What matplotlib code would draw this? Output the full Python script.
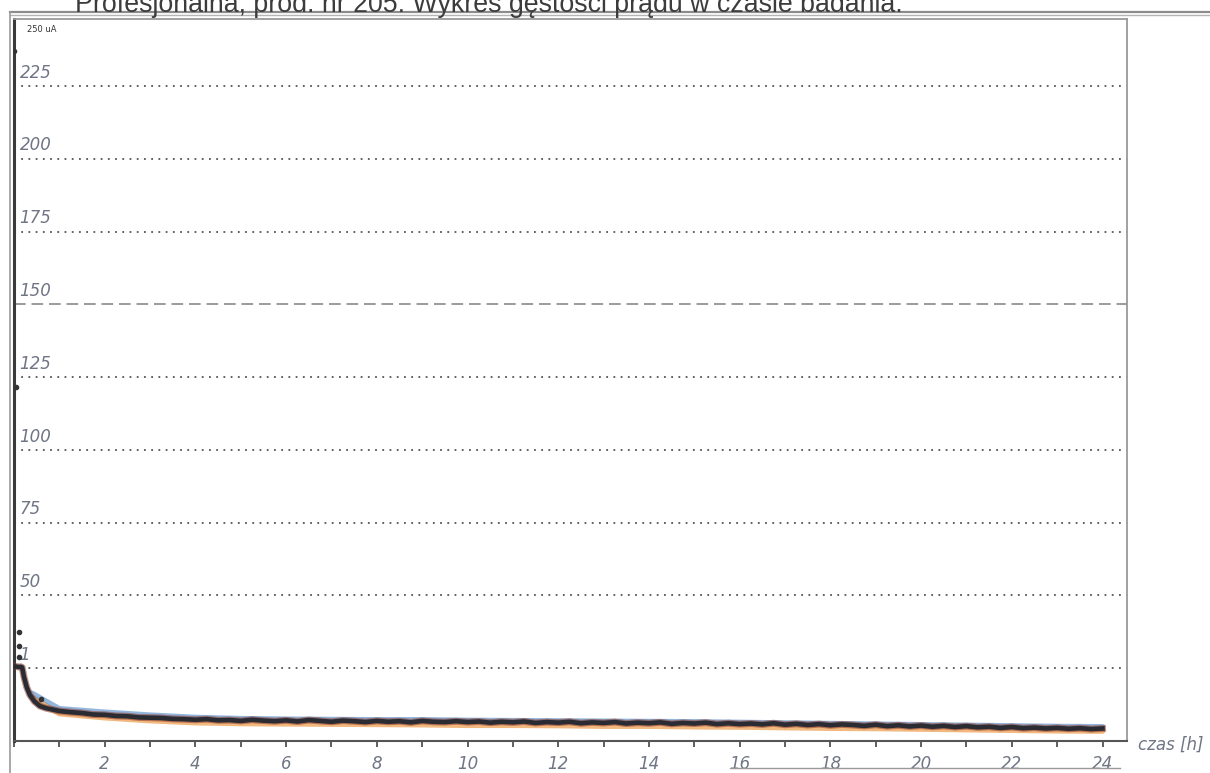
import matplotlib
matplotlib.use("Agg")
import matplotlib.pyplot as plt
from matplotlib.lines import Line2D

# current density trace, uA vs hours
hours = [0.0, 0.05, 0.1, 0.15, 0.18, 0.22, 0.28, 0.35, 0.45, 0.57, 0.7, 0.85,
         1.0, 1.25, 1.5, 1.75, 2.0, 2.25, 2.5, 2.75, 3.0, 3.25, 3.5, 3.75,
         4.0, 4.25, 4.5, 4.75, 5.0, 5.25, 5.5, 5.75, 6.0, 6.25, 6.5, 6.75,
         7.0, 7.25, 7.5, 7.75, 8.0, 8.25, 8.5, 8.75, 9.0, 9.25, 9.5, 9.75,
         10.0, 10.25, 10.5, 10.75, 11.0, 11.25, 11.5, 11.75, 12.0, 12.25, 12.5, 12.75,
         13.0, 13.25, 13.5, 13.75, 14.0, 14.25, 14.5, 14.75, 15.0, 15.25, 15.5, 15.75,
         16.0, 16.25, 16.5, 16.75, 17.0, 17.25, 17.5, 17.75, 18.0, 18.25, 18.5, 18.75,
         19.0, 19.25, 19.5, 19.75, 20.0, 20.25, 20.5, 20.75, 21.0, 21.25, 21.5, 21.75,
         22.0, 22.25, 22.5, 22.75, 23.0, 23.25, 23.5, 23.75, 24.0]
current = [25.5, 25.6, 25.4, 25.5, 25.3, 22.0, 18.5, 15.8, 13.6, 12.0, 11.3, 10.8,
           10.3, 9.9, 9.6, 9.1, 9.0, 8.6, 8.5, 8.1, 8.0, 7.9, 7.6, 7.5,
           7.3, 7.5, 7.1, 7.2, 6.9, 7.3, 7.0, 6.8, 7.1, 6.7, 7.2, 6.9,
           6.6, 7.0, 6.8, 6.5, 6.9, 6.6, 6.8, 6.4, 6.9, 6.6, 6.5, 6.8,
           6.5, 6.7, 6.3, 6.6, 6.4, 6.7, 6.2, 6.5, 6.3, 6.6, 6.1, 6.4,
           6.2, 6.5, 6.0, 6.3, 6.1, 6.4, 5.9, 6.2, 6.0, 6.3, 5.8, 6.1,
           5.8, 6.0, 5.7, 6.1, 5.6, 5.9, 5.5, 5.8, 5.4, 5.7, 5.5, 5.2,
           5.6, 5.1, 5.4, 5.0, 5.3, 4.9, 5.2, 4.8, 5.1, 4.7, 4.9, 4.5,
           4.8, 4.4, 4.6, 4.3, 4.5, 4.2, 4.4, 4.1, 4.3]

# companion channels drawn underneath
hours_coarse = [0.4, 1, 2, 3, 4, 5, 6, 7, 8, 9, 10, 11, 12, 13, 14, 15, 16,
                17, 18, 19, 20, 21, 22, 23, 24]
upper = [16.5, 11.2, 10.0, 9.0, 8.2, 7.8, 7.6, 7.5, 7.4, 7.4, 7.2, 7.1, 7.0,
         6.9, 6.8, 6.7, 6.5, 6.3, 6.1, 5.9, 5.7, 5.5, 5.3, 5.1, 5.0]
lower = [15.0, 9.4, 8.0, 7.0, 6.3, 6.0, 5.9, 5.8, 5.7, 5.6, 5.4, 5.4, 5.3,
         5.1, 5.1, 4.9, 4.8, 4.6, 4.4, 4.3, 4.1, 3.9, 3.7, 3.5, 3.4]

# loose marks near the start
stray_t = [0.1, 0.1, 0.1, 0.6, 0.0, 0.05]
stray_v = [37.5, 32.6, 28.9, 14.5, 237.0, 121.5]

grid_levels = [25, 50, 75, 100, 125, 150, 175, 200, 225]
grid_labels = ["1", "50", "75", "100", "125", "150", "175", "200", "225"]
x_labels = [2, 4, 6, 8, 10, 12, 14, 16, 18, 20, 22, 24]

title = "Profesjonalna, prod. nr 205: Wykres gęstości prądu w czasie badania."

W, H = 1210, 773
fig = plt.figure(figsize=(W / 100, H / 100), dpi=100)
fig.patch.set_facecolor("white")

def px(x, y):
    return x / W, 1 - y / H

ax = fig.add_axes([14 / W, (H - 741) / H, (1127 - 14) / W, (741 - 19) / H])
ax.set_xlim(0, 24.54)
ax.set_ylim(0, 248)

for lvl in grid_levels:
    if lvl == 150:
        ax.axhline(lvl, color="#8a8a8a", lw=1.2, ls=(0, (7, 3.5)), zorder=1)
    else:
        ax.axhline(lvl, color="#555555", lw=1.3, ls=(0, (1, 3)), zorder=1)

ax.plot(hours_coarse, lower, color="#e8892a", lw=4, alpha=0.6, zorder=2,
        solid_capstyle="round")
ax.plot(hours_coarse, upper, color="#4f86c6", lw=3.5, alpha=0.6, zorder=2,
        solid_capstyle="round")
ax.plot(hours, current, color="#8a3a2a", lw=5, alpha=0.55, zorder=3)
ax.plot(hours, current, color="#2b2b33", lw=3.3, zorder=4)
ax.scatter(stray_t, stray_v, s=9, color="#333333", zorder=5)

hand = dict(color="#6f7585", style="italic", family="DejaVu Sans")
for lvl, lab in zip(grid_levels, grid_labels):
    ax.text(0.12, lvl + 1.5, lab, fontsize=12, ha="left", va="bottom", **hand)

ax.set_xticks(range(0, 25))
ax.set_xticklabels([str(h) if h in x_labels else "" for h in range(0, 25)],
                   fontsize=12, **hand)
ax.tick_params(axis="x", direction="out", length=4, width=1.2,
               color="#444444", pad=6)
ax.set_yticks([])

for side in ["top", "right"]:
    ax.spines[side].set_color("#9a9a9a")
    ax.spines[side].set_linewidth(1.3)
ax.spines["left"].set_color("#3a3a3a")
ax.spines["left"].set_linewidth(2.2)
ax.spines["bottom"].set_color("#555555")
ax.spines["bottom"].set_linewidth(1.5)

ax.text(0.012, 0.992, "250 uA", transform=ax.transAxes, fontsize=6,
        color="#333333", ha="left", va="top")

# page border lines
fig.add_artist(Line2D([px(10, 0)[0], 1], [px(0, 12)[1]] * 2, color="#8c8c8c", lw=1.6))
fig.add_artist(Line2D([px(10, 0)[0], 1], [px(0, 15)[1]] * 2, color="#b5b5b5", lw=1.0))
fig.add_artist(Line2D([px(10, 0)[0]] * 2, [px(0, 12)[1], 0], color="#9a9a9a", lw=1.2))
fig.add_artist(Line2D([px(730, 0)[0], px(1120, 0)[0]], [px(0, 768)[1]] * 2,
                      color="#999999", lw=1.0))

fig.text(*px(1138, 745), "czas [h]", fontsize=12, ha="left", va="center", **hand)
fig.text(*px(75, 12), title, fontsize=19.3, family="Liberation Sans",
         color="#3c3c3c", ha="left", va="baseline")

fig.savefig("out.png", dpi=100, facecolor="white")
